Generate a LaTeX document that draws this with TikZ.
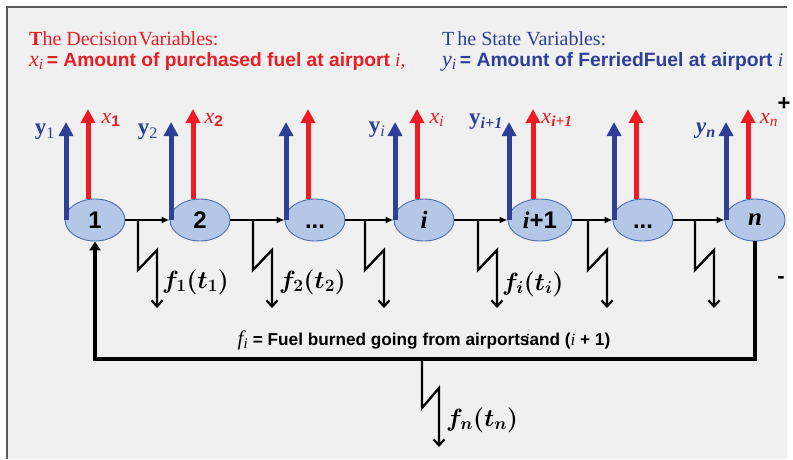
\documentclass[tikz,border=0pt]{standalone}
\usepackage{fontspec}
\setmainfont{Liberation Serif}
\setsansfont{Liberation Sans}
\usepackage{bm}
\usetikzlibrary{arrows.meta,shapes.geometric}
\definecolor{myred}{HTML}{ED1C24}
\definecolor{myblue}{HTML}{2E3F98}
\definecolor{nodefill}{HTML}{B4C7E7}
\definecolor{nodeborder}{HTML}{4A6FB0}
\definecolor{bgfill}{HTML}{F0F0F0}
\newcommand\fs[1]{\fontsize{#1}{#1}\selectfont}
\tikzset{
  airport/.style={ellipse, draw=nodeborder, fill=nodefill, line width=0.9pt,
    minimum width=60pt, minimum height=42pt, inner sep=0pt,
    font=\sffamily\bfseries\fs{24}},
  yarrow/.style={draw=myblue, line width=5pt, -{Triangle[width=14pt,length=14pt]}},
  xarrow/.style={draw=myred, line width=5pt, -{Triangle[width=14pt,length=14pt]}},
  flow/.style={line width=1.8pt, -{Latex[length=8pt,width=7pt]}},
  burn/.style={line width=2.3pt, line join=miter, -{Straight Barb[length=6pt,width=11pt,line width=2.3pt]}},
  loopline/.style={line width=3.5pt, line join=miter, -{Triangle[length=9pt,width=11pt]}},
  ylab/.style={text=myblue, font=\fs{23}, inner sep=0pt},
  xlab/.style={text=myred, font=\fs{22}, inner sep=0pt},
  flab/.style={font=\fs{24}, inner sep=0pt, anchor=west},
}
\begin{document}
\begin{tikzpicture}[x=1pt,y=-1pt]
\useasboundingbox (0,0) rectangle (793,459);
\fill[bgfill] (7,7) rectangle (787,459);
\draw[gray!70!black, line width=1.2pt] (7,459) -- (7,7) -- (787,7);

% titles
\node[anchor=base west, inner sep=0pt, text=myred, font=\fs{20}] (dvtitle) at (29,45)
  {\textbf{T}he Decision\hspace{1pt}Variables:};
\node[anchor=base west, inner sep=0pt, text=myred, font=\sffamily\bfseries\fs{19.2}] (dvdef) at (29,66)
  {\rmfamily\mdseries\itshape\fs{22}x\textsubscript{i}\sffamily\upshape\bfseries\fs{19.2}\,= Amount of purchased fuel at airport \rmfamily\itshape\mdseries i,};
\node[anchor=base west, inner sep=0pt, text=myblue, font=\fs{20}] (svtitle) at (442,45)
  {T\hspace{3pt}he State Variables:};
\node[anchor=base west, inner sep=0pt, text=myblue, font=\sffamily\bfseries\fs{19.3}] (svdef) at (442,66)
  {\rmfamily\mdseries\itshape\fs{22}y\textsubscript{i}\sffamily\upshape\bfseries\fs{19.3}\,= Amount of FerriedFuel at airport \rmfamily\itshape\mdseries i};

% airports
\node[airport] (n1) at (95,220) {1};
\node[airport] (n2) at (200,220) {2};
\node[airport] (n3) at (315,220) {\vphantom{1}...};
\node[airport, font=\rmfamily\bfseries\itshape\fs{25}] (ni) at (424,220) {i};
\node[airport, minimum width=64pt] (nip) at (540,220) {{\rmfamily\itshape\bfseries i}+1};
\node[airport] (n6) at (643,220) {\vphantom{1}...};
\node[airport, font=\rmfamily\bfseries\itshape\fs{25}] (nn) at (755,220) {n};

% flow arrows
\draw[flow] (n1) -- (n2);
\draw[flow] (n2) -- (n3);
\draw[flow] (n3) -- (ni);
\draw[flow] (ni) -- (nip);
\draw[flow] (nip) -- (n6);
\draw[flow] (n6) -- (nn);

% state (blue) and decision (red) arrows
\foreach \n in {n1,n2,n3,ni,nip,n6,nn}{
  \draw[yarrow] ([xshift=1.5pt]\n.west) -- ([xshift=1.5pt]\n.west |- 0,122);
  \draw[xarrow] ([xshift=-7pt]\n.north) -- ([xshift=-7pt]\n.north |- 0,109);
}

% labels of arrows
\node[ylab] (ly1) at (45,132) {\textbf{y}\textsubscript{1}};
\node[xlab] (lx1) at (111,120) {\textit{x}\textsubscript{\sffamily\bfseries 1}};
\node[ylab] (ly2) at (148,132) {\textbf{y}\textsubscript{2}};
\node[xlab] (lx2) at (214,120) {\textit{x}\textsubscript{\sffamily\bfseries 2}};
\node[ylab] (lyi) at (377,130) {\textbf{y}\textsubscript{\textit{i}}};
\node[xlab] (lxi) at (437,120) {\textit{x}\textsubscript{\textit{i}}};
\node[ylab] (lyip) at (486,122) {\textbf{y}\textsubscript{\textbf{\textit{i+1}}}};
\node[xlab] (lxip) at (557,120) {\textit{x}\textsubscript{\textbf{\textit{i+1}}}};
\node[ylab] (lyn) at (706,131) {\textbf{\textit{y}}\textsubscript{\textbf{\textit{n}}}};
\node[xlab] (lxn) at (769,120) {\textit{x}\textsubscript{\textit{n}}};
\node[inner sep=0pt, font=\sffamily\bfseries\fs{22}] (plus) at (784,104) {+};
\node[inner sep=0pt, font=\sffamily\bfseries\fs{22}] (minus) at (781,280) {-};

% fuel burned lightning arrows
\foreach \x in {138,253,365,478,588,695}{
  \draw[burn] (\x,220) -- ++(0,50) -- ++(19,-20) -- ++(0,58);
}
\node[flab] (f1) at (162,282) {$\bm{f_1(t_1)}$};
\node[flab] (f2) at (279,282) {$\bm{f_2(t_2)}$};
\node[flab] (fi) at (502,284) {$\bm{f_i(t_i)}$};

% return loop
\coordinate (lr) at (nn.south |- 0,359);
\coordinate (ll) at (n1.south |- 0,359);
\draw[loopline] (nn.south) -- (lr) -- (ll) -- (n1.south);

\node[anchor=base, inner sep=0pt, font=\sffamily\bfseries\fs{17.2}] (cap) at (424,345)
  {{\rmfamily\mdseries\itshape\fs{21}f\textsubscript{i}} = Fuel burned going from airports\llap{\rmfamily\mdseries\itshape i}and ({\rmfamily\mdseries\itshape i} + 1)};

\draw[burn] (422,359) -- ++(0,49) -- ++(17,-20) -- ++(0,59);
\node[flab] (fn) at (446,420) {$\bm{f_n(t_n)}$};
\end{tikzpicture}
\end{document}
